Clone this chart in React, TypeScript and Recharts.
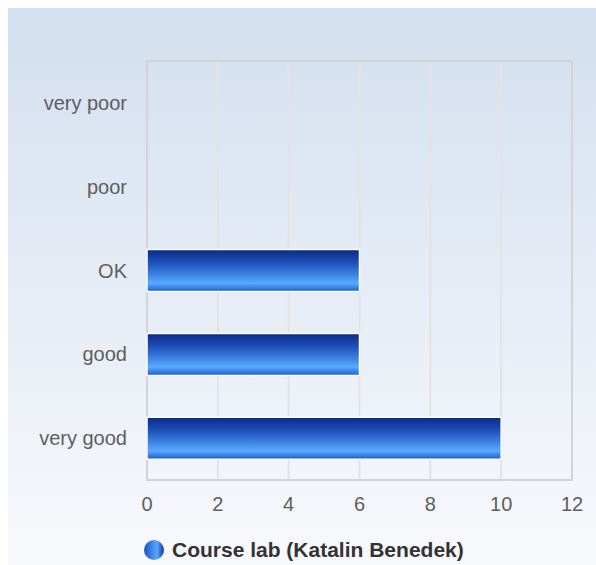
import React from 'react'
import { BarChart, Bar, XAxis, YAxis, CartesianGrid, Legend, ReferenceArea } from 'recharts'

const categories = ['very poor', 'poor', 'OK', 'good', 'very good']
const courseLab = [0, 0, 6, 6, 10]
const xTicks = [0, 2, 4, 6, 8, 10, 12]
const seriesName = 'Course lab (Katalin Benedek)'

const data = categories.map((c, i) => ({ name: c, value: courseLab[i] }))

const FONT = '"Liberation Sans", Arial, sans-serif'

const LegendContent = () => (
  <div style={{ display: 'flex', alignItems: 'center', height: 30, paddingLeft: 135, fontFamily: FONT }}>
    <svg width={22} height={22} style={{ marginRight: 7 }}>
      <defs>
        <linearGradient id="legendGrad" x1="0" y1="0" x2="1" y2="0">
          <stop offset="0%" stopColor="#1a52c2" />
          <stop offset="65%" stopColor="#5aa8ff" />
          <stop offset="100%" stopColor="#0c3698" />
        </linearGradient>
      </defs>
      <circle cx={11} cy={11} r={10} fill="url(#legendGrad)" />
    </svg>
    <span style={{ fontWeight: 'bold', fontSize: 21, color: '#333' }}>{seriesName}</span>
  </div>
)

const App: React.FC = () => {
  return (
    <div style={{
      position: 'absolute', left: 8, top: 8, width: 588, height: 557,
      background: 'linear-gradient(to bottom, #d3dfef 0%, #f8f9fc 100%)'
    }}>
      <BarChart width={588} height={557} data={data} layout="vertical"
        margin={{ top: 53, right: 24, left: 0, bottom: 0 }}>
        <defs>
          <linearGradient id="barGrad" x1="0" y1="0" x2="0" y2="1">
            <stop offset="0%" stopColor="#0a2a86" />
            <stop offset="30%" stopColor="#1d4db6" />
            <stop offset="60%" stopColor="#3d84e4" />
            <stop offset="80%" stopColor="#5aa9ff" />
            <stop offset="100%" stopColor="#1a5ecb" />
          </linearGradient>
        </defs>
        <CartesianGrid horizontal={false} stroke="#e3e3e6" strokeWidth={2} />
        <ReferenceArea x1={0} x2={12} fill="none" stroke="#d2d4d8" strokeWidth={2} ifOverflow="visible" />
        <XAxis type="number" domain={[0, 12]} ticks={xTicks} height={55}
          axisLine={false} tickLine={false} tickSize={0} tickMargin={17}
          tick={{ fill: '#5e5e5e', fontSize: 20, fontFamily: FONT }} />
        <YAxis type="category" dataKey="name" width={139}
          axisLine={false} tickLine={false} tickSize={0} tickMargin={20}
          tick={{ fill: '#5e5e5e', fontSize: 20, fontFamily: FONT }} />
        <Legend verticalAlign="bottom" height={30} content={<LegendContent />}
          wrapperStyle={{ left: 0, width: 588 }} />
        <Bar dataKey="value" name={seriesName} fill="url(#barGrad)" stroke="#ffffff" strokeWidth={1.5}
          barSize={42} isAnimationActive={false} />
      </BarChart>
    </div>
  )
}

export default App
